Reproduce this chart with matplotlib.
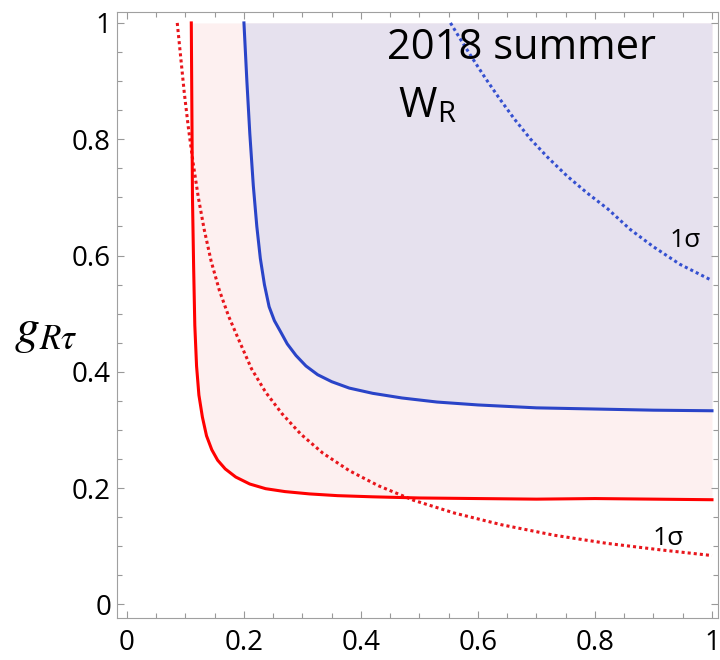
import matplotlib
matplotlib.use("Agg")
import matplotlib.pyplot as plt
from matplotlib.ticker import MultipleLocator

plt.rcParams['font.family'] = ['Open Sans', 'DejaVu Sans']
plt.rcParams['mathtext.fontset'] = 'stix'

# solid red boundary (upper edge of the pink region)
red_x = [0.110, 0.111, 0.112, 0.114, 0.116, 0.119, 0.123, 0.129, 0.136, 0.145,
         0.155, 0.168, 0.186, 0.210, 0.237, 0.270, 0.312, 0.360, 0.420, 0.500,
         0.600, 0.700, 0.800, 0.900, 1.000]
red_y = [1.000, 0.850, 0.700, 0.580, 0.480, 0.410, 0.360, 0.322, 0.290, 0.266,
         0.248, 0.233, 0.219, 0.207, 0.199, 0.194, 0.190, 0.187, 0.185, 0.183,
         0.182, 0.181, 0.182, 0.181, 0.180]

# solid blue boundary
blue_x = [0.200, 0.205, 0.210, 0.216, 0.222, 0.228, 0.235, 0.243, 0.252, 0.262,
          0.274, 0.289, 0.306, 0.326, 0.350, 0.380, 0.420, 0.470, 0.530, 0.600,
          0.700, 0.800, 0.900, 1.000]
blue_y = [1.000, 0.900, 0.810, 0.720, 0.650, 0.595, 0.550, 0.512, 0.488, 0.470,
          0.448, 0.428, 0.410, 0.395, 0.383, 0.372, 0.363, 0.355, 0.348, 0.343,
          0.338, 0.336, 0.334, 0.333]

# dotted 1 sigma curves
red1s_x = [0.086, 0.092, 0.098, 0.105, 0.113, 0.122, 0.132, 0.144, 0.158, 0.174,
           0.192, 0.213, 0.237, 0.265, 0.297, 0.335, 0.380, 0.430, 0.490, 0.560,
           0.640, 0.730, 0.820, 0.910, 1.000]
red1s_y = [1.000, 0.940, 0.880, 0.820, 0.760, 0.700, 0.645, 0.590, 0.540, 0.495,
           0.453, 0.405, 0.365, 0.328, 0.293, 0.260, 0.230, 0.204, 0.179, 0.157,
           0.137, 0.119, 0.105, 0.094, 0.084]

blue1s_x = [0.553, 0.570, 0.590, 0.612, 0.636, 0.662, 0.690, 0.720, 0.752, 0.786,
            0.822, 0.860, 0.900, 0.945, 1.000]
blue1s_y = [1.000, 0.972, 0.940, 0.906, 0.871, 0.835, 0.800, 0.768, 0.737, 0.708,
            0.680, 0.645, 0.615, 0.585, 0.557]

ticks = [0, 0.2, 0.4, 0.6, 0.8, 1]
tick_labels = ['0', '0.2', '0.4', '0.6', '0.8', '1']

fig = plt.figure(figsize=(7.2, 6.6), dpi=100)
ax = fig.add_axes([0.162, 0.064, 0.835, 0.918])

ax.fill_between(red_x, red_y, 1, color='#fdf0f0', lw=0)
ax.fill_between(blue_x, blue_y, 1, color='#e6e1ee', lw=0)

ax.plot(red1s_x, red1s_y, color='#e8161c', lw=2.2, ls=(0, (1, 1)))
ax.plot(blue1s_x, blue1s_y, color='#3550d0', lw=2.2, ls=(0, (1, 1)))
ax.plot(red_x, red_y, color='#ff0000', lw=2.2)
ax.plot(blue_x, blue_y, color='#2a44c8', lw=2.2)

ax.text(0.444, 0.938, '2018 summer', fontsize=30, va='baseline', ha='left')
ax.text(0.463, 0.838, r'W$_{\mathregular{R}}$', fontsize=30, va='baseline', ha='left')
ax.text(0.928, 0.614, '1σ', fontsize=19, va='baseline', ha='left')
ax.text(0.899, 0.102, '1σ', fontsize=19, va='baseline', ha='left')

ax.set_xlim(-0.0176, 1.01)
ax.set_ylim(-0.023, 1.019)
ax.set_xticks(ticks)
ax.set_xticklabels(tick_labels)
ax.set_yticks(ticks)
ax.set_yticklabels(tick_labels)
ax.xaxis.set_minor_locator(MultipleLocator(0.05))
ax.yaxis.set_minor_locator(MultipleLocator(0.05))
ax.tick_params(which='both', direction='in', top=True, right=True, color='#999999')
ax.tick_params(which='major', length=5, width=0.8, labelsize=20)
ax.tick_params(which='minor', length=3.5, width=0.8)
ax.tick_params(axis='x', pad=8)
ax.tick_params(axis='y', pad=4)
for s in ax.spines.values():
    s.set_color('#a0a0a0')
    s.set_linewidth(0.8)

ax.set_ylabel(r'$g_{R\tau}$', fontsize=36, rotation=0, ha='center', va='center')
ax.yaxis.set_label_coords(-0.118, 0.475)

fig.savefig('out.png', dpi=100)
